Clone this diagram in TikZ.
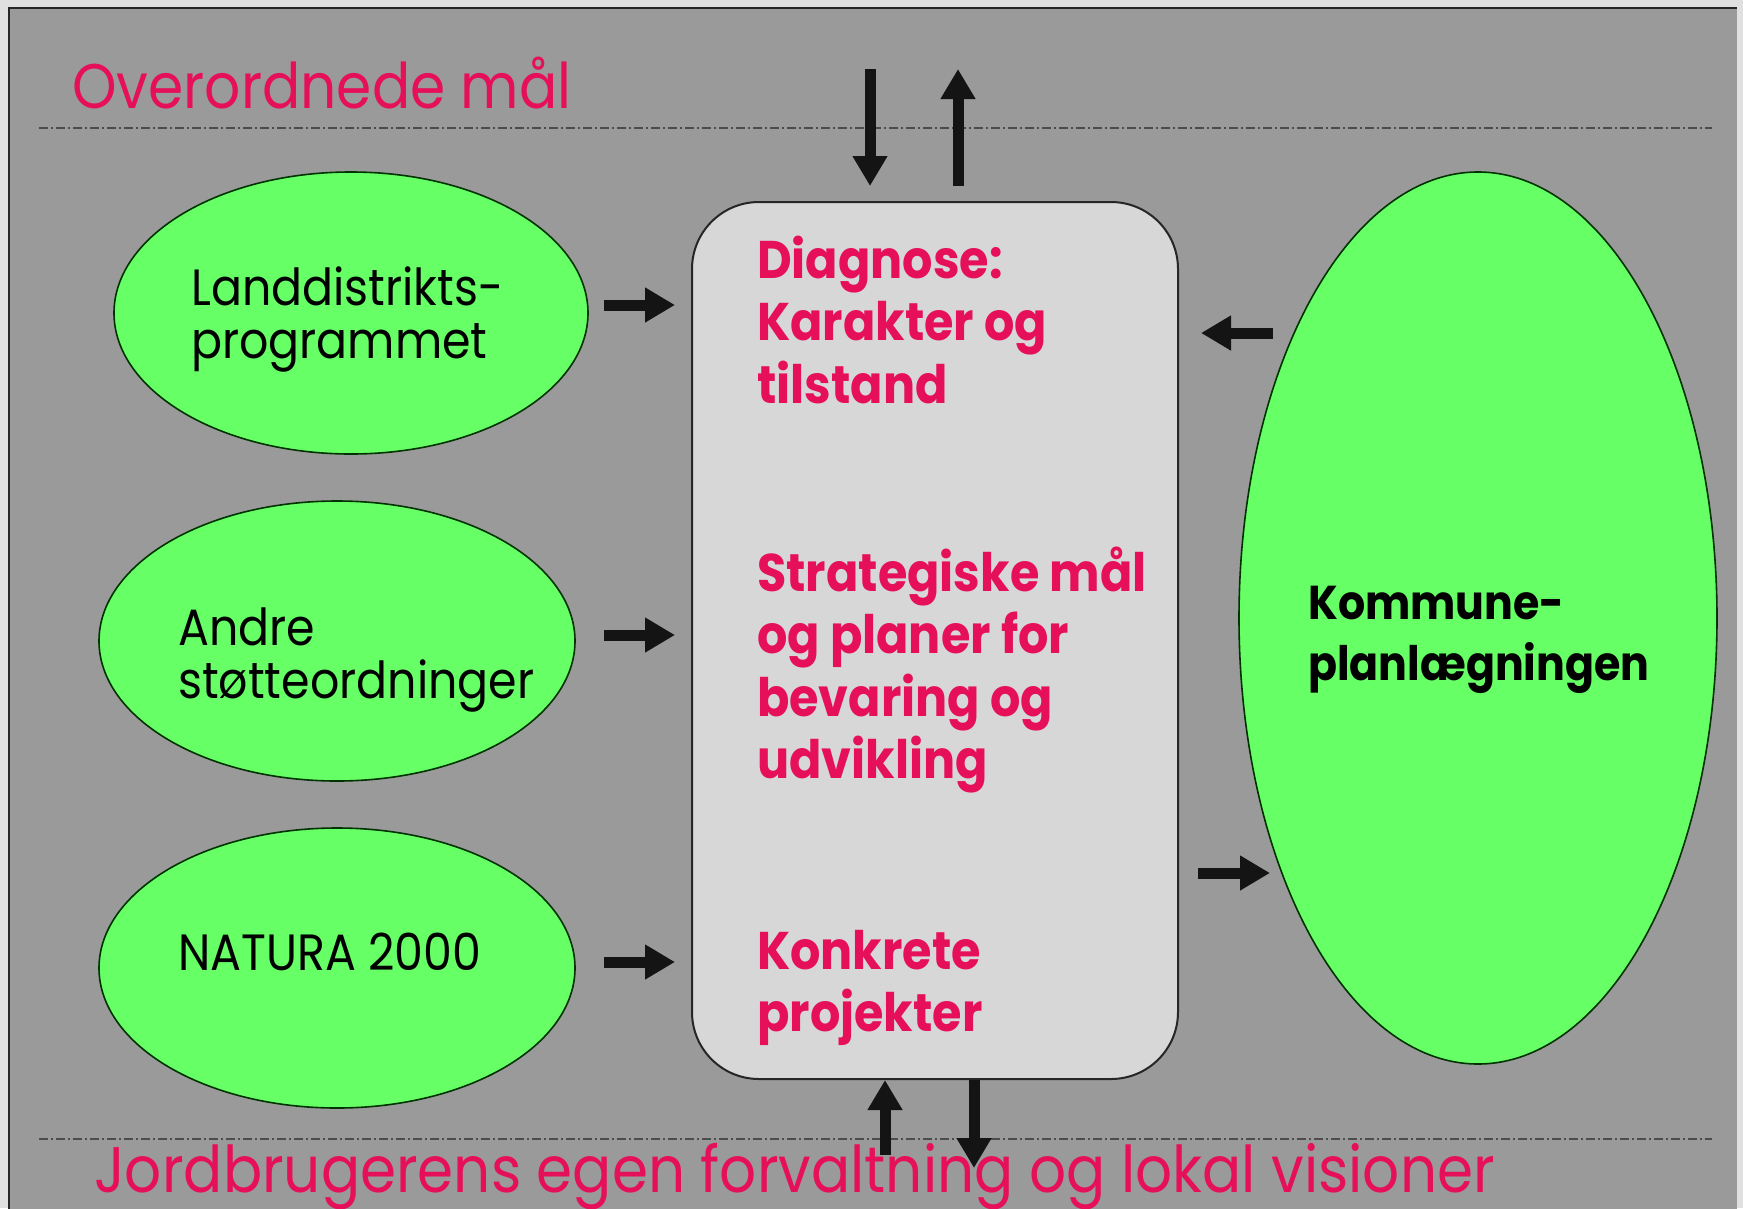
\documentclass[tikz,border=0pt]{standalone}
\usepackage{fontspec}
\newfontfamily\cfont[FakeStretch=0.9]{Poppins}
\usetikzlibrary{shapes.geometric,arrows.meta,calc}
\definecolor{pinktxt}{RGB}{230,15,90}
\definecolor{bggray}{HTML}{9A9A9A}
\definecolor{margingray}{HTML}{E0E0E0}
\definecolor{boxgray}{HTML}{D7D7D7}
\definecolor{leafgreen}{HTML}{66FF66}
\begin{document}
\begin{tikzpicture}[x=1pt,y=-1pt,
  blob/.style={ellipse, draw=black!80!green, line width=1.6pt, fill=leafgreen, inner sep=0pt},
  panel/.style={draw=black!85, line width=2pt, fill=boxgray, rounded corners=67pt, inner sep=0pt},
  arr/.style={line width=11pt, black!92, -{Triangle[length=30pt,width=33pt]}},
  sepline/.style={line width=1.3pt, draw=black!70, dash pattern=on 9pt off 3pt on 2pt off 3pt},
  headtxt/.style={text=pinktxt, font=\cfont\fontsize{63}{70}\selectfont, anchor=base west, inner sep=0pt},
  foottxt/.style={text=pinktxt, font=\cfont\fontsize{64.5}{70}\selectfont, anchor=base west, inner sep=0pt},
  boxtxt/.style={text=pinktxt, font=\cfont\bfseries\fontsize{53}{62.5}\selectfont, anchor=base west, inner sep=0pt},
  blobtxt/.style={text=black, font=\cfont\fontsize{51}{53}\selectfont, anchor=base west, inner sep=0pt},
  bigtxt/.style={text=black, font=\cfont\bfseries\fontsize{47.5}{61}\selectfont, anchor=base west, inner sep=0pt}]
\useasboundingbox (0,0) rectangle (1743,1208);
\begin{scope}
\clip (0,0) rectangle (1743,1208);
\fill[margingray] (0,0) rectangle (1743,1208);
\fill[bggray] (9,8) rectangle (1737,1240);
\draw[black!85, line width=2pt] (9,1240) -- (9,8) -- (1737,8);
\end{scope}

% separator lines
\coordinate (sepTL) at (39,128);
\coordinate (sepTR) at (1712,128);
\coordinate (sepBL) at (39,1139);
\coordinate (sepBR) at (1712,1139);
\draw[sepline] (sepTL) -- (sepTR);
\draw[sepline] (sepBL) -- (sepBR);

% headings
\node[headtxt] (top) at (72,108) {Overordnede mål};
\node[foottxt] (bottom) at (94,1192) {Jordbrugerens egen forvaltning og lokal visioner};

% ellipses
\node[blob, minimum width=474pt, minimum height=282pt] (e1) at (351,313) {};
\node[blob, minimum width=476pt, minimum height=280pt] (e2) at (337,641) {};
\node[blob, minimum width=476pt, minimum height=280pt] (e3) at (337,968) {};
\node[blob, minimum width=478pt, minimum height=892pt] (kp) at (1478,618) {};

\node[blobtxt] (t1) at (191,305) {\vtop{\hbox{Landdistrikts-}\hbox{programmet}}};
\node[blobtxt] (t2) at (178,645) {\vtop{\hbox{Andre}\hbox{støtteordninger}}};
\node[blobtxt] (t3) at (178,970) {NATURA 2000};
\node[bigtxt] (t4) at (1308,619) {\vtop{\hbox{Kommune-}\hbox{planlægningen}}};

% central panel
\node[panel, minimum width=486pt, minimum height=877pt] (box) at (935,640.5) {};
\node[boxtxt] (b1) at (757,278) {\vtop{\hbox{Diagnose:}\hbox{Karakter og}\hbox{tilstand}}};
\node[boxtxt] (b2) at (757,591) {\vtop{\hbox{Strategiske mål}\hbox{og planer for}\hbox{bevaring og}\hbox{udvikling}}};
\node[boxtxt] (b3) at (757,969) {\vtop{\hbox{Konkrete}\hbox{projekter}}};

% arrows from left ellipses
\coordinate (l1) at (604,305);
\coordinate (l2) at (604,635);
\coordinate (l3) at (604,962);
\draw[arr, shorten >=16pt] (l1) -- (l1 -| box.west);
\draw[arr, shorten >=16pt] (l2) -- (l2 -| box.west);
\draw[arr, shorten >=16pt] (l3) -- (l3 -| box.west);

% arrows with the large ellipse
\coordinate (r1) at (1273,333);
\coordinate (r2) at (1270,873);
\draw[arr, shorten >=22pt] (r1) -- (r1 -| box.east);
\draw[arr, shorten <=19pt] (r2 -| box.east) -- (r2);

% top arrows
\coordinate (tdown) at (870,69);
\coordinate (tup) at (958,69);
\draw[arr, shorten >=15pt] (tdown) -- (tdown |- box.north);
\draw[arr, shorten <=15pt] (tup |- box.north) -- (tup);

% bottom arrows
\coordinate (bup) at (885,1155);
\coordinate (bdown) at (974,1168);
\draw[arr] (bup) -- (bup |- box.south);
\draw[arr] (bdown |- box.south) -- (bdown);
\end{tikzpicture}
\end{document}
